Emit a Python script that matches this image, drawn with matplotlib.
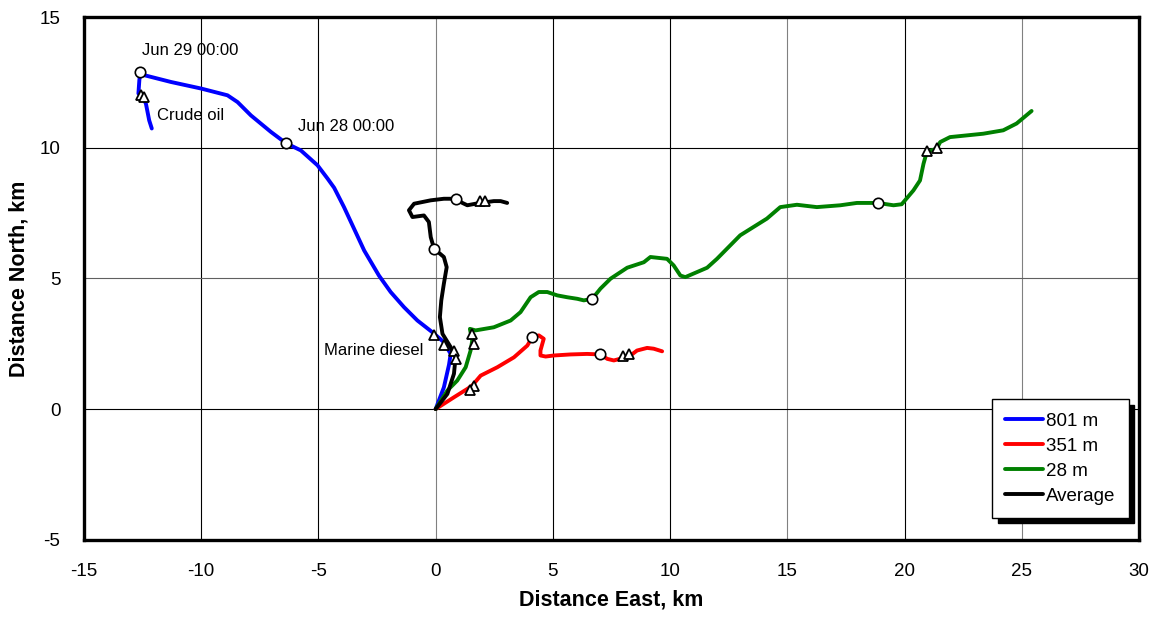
import matplotlib
matplotlib.use("Agg")
import matplotlib.pyplot as plt

plt.rcParams['font.family'] = ['Liberation Sans', 'DejaVu Sans']
plt.rcParams['axes.unicode_minus'] = False

# ---- data (km East, km North) ----
blue_x = [0, 0.35, 0.57, 0.64, 0.35, -0.14, -0.78, -1.35, -1.92, -2.42, -3.05, -3.48, -3.91,
          -4.33, -4.61, -5.04, -5.75, -6.39, -7.03, -7.88, -8.45, -8.88, -10.01, -11.29,
          -12.43, -12.6, -12.64, -12.68, -12.50, -12.36, -12.22, -12.11]
blue_y = [0, 0.83, 1.70, 2.11, 2.56, 2.94, 3.39, 3.90, 4.48, 5.11, 6.07, 6.90, 7.73,
          8.47, 8.82, 9.33, 9.90, 10.18, 10.61, 11.24, 11.75, 12.01, 12.27, 12.52,
          12.78, 12.90, 12.59, 12.08, 11.95, 11.69, 11.05, 10.74]

red_x = [0, 0.78, 1.35, 1.56, 1.92, 2.63, 3.34, 3.91, 4.12, 4.40, 4.61, 4.47, 4.47, 4.69, 5.04,
         5.75, 6.46, 7.03, 7.32, 7.60, 8.02, 8.31, 8.59, 9.02, 9.30, 9.66]
red_y = [0, 0.45, 0.77, 0.90, 1.28, 1.60, 1.98, 2.43, 2.75, 2.82, 2.69, 2.24, 2.05, 2.01, 2.05,
         2.09, 2.11, 2.09, 1.92, 1.86, 1.96, 2.05, 2.24, 2.34, 2.31, 2.21]

green_x = [0, 0.50, 0.92, 1.28, 1.49, 1.56, 1.46, 1.70, 2.48, 3.20, 3.62, 4.05, 4.40, 4.76, 5.19,
           5.61, 6.04, 6.32, 6.68, 7.03, 7.46, 8.17, 8.88, 9.16, 9.87, 10.15, 10.44, 10.65,
           11.58, 12.00, 12.99, 14.13, 14.70, 15.41, 16.26, 17.26, 17.97, 18.86, 19.53,
           19.88, 20.38, 20.66, 20.81, 20.95, 21.38, 21.52, 21.94, 23.36, 24.21, 24.78, 25.42]
green_y = [0, 0.71, 1.09, 1.60, 2.24, 2.62, 3.07, 3.01, 3.13, 3.39, 3.71, 4.28, 4.48, 4.48, 4.35,
           4.28, 4.22, 4.16, 4.22, 4.61, 4.99, 5.41, 5.62, 5.82, 5.75, 5.50, 5.11, 5.05,
           5.41, 5.75, 6.65, 7.29, 7.73, 7.82, 7.73, 7.80, 7.89, 7.89, 7.80,
           7.84, 8.37, 8.75, 9.39, 9.84, 9.97, 10.22, 10.41, 10.54, 10.67, 10.93, 11.41]

avg_x = [0, 0.50, 0.78, 0.85, 0.64, 0.29, 0.18, 0.24, 0.35, 0.47, 0.35, -0.07, -0.21, -0.29,
         -0.50, -0.99, -1.14, -0.92, -0.21, 0.35, 0.85, 1.14, 1.35, 1.70, 1.99, 2.48, 2.77, 3.05]
avg_y = [0, 0.58, 1.35, 1.98, 2.37, 2.88, 3.52, 4.16, 4.80, 5.43, 5.82, 6.14, 6.58, 7.16,
         7.41, 7.35, 7.61, 7.86, 7.99, 8.05, 8.05, 7.89, 7.80, 7.86, 7.90, 7.96, 7.96, 7.89]

# time markers (circles) and beaching markers (triangles)
circ_x = [-6.39, -12.6, 4.12, 7.03, 6.68, 18.86, -0.07, 0.85]
circ_y = [10.18, 12.90, 2.75, 2.09, 4.22, 7.89, 6.14, 8.05]
tri_x = [-0.07, 0.35, 0.78, 0.85, 1.56, 1.63, 1.63, 1.46,
         -12.55, -12.45, 1.90, 2.10, 8.00, 8.25, 20.95, 21.38]
tri_y = [2.82, 2.47, 2.24, 1.92, 2.88, 2.50, 0.90, 0.74,
         12.02, 11.95, 7.95, 7.97, 2.03, 2.12, 9.88, 10.00]

labels = ['801 m', '351 m', '28 m', 'Average']
colors = ['#0000FF', '#FF0000', '#008000', '#000000']

xticks = [-15, -10, -5, 0, 5, 10, 15, 20, 25, 30]
yticks = [-5, 0, 5, 10, 15]

fig = plt.figure(figsize=(11.59, 6.21), dpi=100)
ax = fig.add_axes([0.0725, 0.131, 0.9102, 0.8413])

series = [(blue_x, blue_y), (red_x, red_y), (green_x, green_y), (avg_x, avg_y)]
lines = []
for (xs, ys), c, lab in zip(series, colors, labels):
    ln, = ax.plot(xs, ys, color=c, lw=2.8, label=lab, solid_joinstyle='round',
                  solid_capstyle='round', zorder=3)
    lines.append(ln)

ax.plot(circ_x, circ_y, 'o', ms=7.5, mfc='white', mec='black', mew=1.2, zorder=5)
ax.plot(tri_x, tri_y, '^', ms=7.5, mfc='white', mec='black', mew=1.3, zorder=5)

ax.set_xlim(-15, 30)
ax.set_ylim(-5, 15)
ax.set_xticks(xticks)
ax.set_yticks(yticks)
ax.tick_params(length=0, labelsize=13.5)
ax.tick_params(axis='x', pad=17)
ax.tick_params(axis='y', pad=17)

ax.grid(True, color='black', lw=0.8, zorder=0)
ax.set_axisbelow(True)
for gl, v in zip(ax.xaxis.get_gridlines(), xticks):
    if v in (0, 15, 25):
        gl.set_color('#808080')
for gl, v in zip(ax.yaxis.get_gridlines(), yticks):
    if v == 5:
        gl.set_color('#606060')

for sp in ax.spines.values():
    sp.set_linewidth(2.4)

ax.set_xlabel('Distance East, km', fontsize=15.5, fontweight='bold', labelpad=7)
ax.set_ylabel('Distance North, km', fontsize=15.5, fontweight='bold', labelpad=7)

ax.text(-12.53, 13.55, 'Jun 29 00:00', fontsize=12)
ax.text(-5.88, 10.65, 'Jun 28 00:00', fontsize=12)
ax.text(-11.89, 11.05, 'Crude oil', fontsize=12)
ax.text(-4.77, 2.05, 'Marine diesel', fontsize=12)

leg = ax.legend(handles=lines, loc='lower right', bbox_to_anchor=(0.9905, 0.042),
                fontsize=13.5, frameon=True, fancybox=False,
                shadow={'color': 'black', 'alpha': 1, 'ox': 4, 'oy': -4},
                borderpad=0.7, handlelength=2.0, handletextpad=0.2, labelspacing=0.42,
                borderaxespad=0)
leg.get_frame().set_edgecolor('black')
leg.get_frame().set_linewidth(1.0)
leg.set_zorder(10)

fig.savefig('out.png', dpi=100)
